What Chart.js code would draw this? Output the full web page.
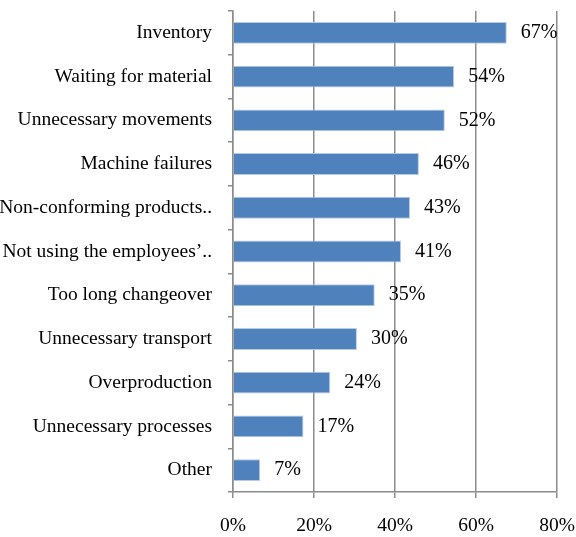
<!DOCTYPE html>
<html lang="en">
<head>
    <meta charset="UTF-8">
    <title>Wastes</title>
    <style>
        body {
            margin: 0;
            padding: 0;
            background: #fff;
        }
        #wasteChart {
            display: block;
        }
    </style>
</head>
<body>
    <canvas id="wasteChart" width="576" height="537"></canvas>
    <script src="https://cdn.jsdelivr.net/npm/chart.js"></script>
    <script>
        // categories, top to bottom
        var categories = [
            'Inventory',
            'Waiting for material',
            'Unnecessary movements',
            'Machine failures',
            'Non-conforming products..',
            'Not using the employees\u2019..',
            'Too long changeover',
            'Unnecessary transport',
            'Overproduction',
            'Unnecessary processes',
            'Other'
        ];
        // share of answers (%)
        var shares = [67.6, 54.6, 52.3, 45.9, 43.7, 41.5, 35.0, 30.6, 24.0, 17.4, 6.7];
        // the rounded labels printed next to each bar
        var shareLabels = ['67%', '54%', '52%', '46%', '43%', '41%', '35%', '30%', '24%', '17%', '7%'];
        var xTicks = [0, 20, 40, 60, 80];

        var serif = '"Liberation Serif", "Times New Roman", serif';
        var gridGray = '#8c8c8c';

        // draws the value label just right of each bar
        var barLabels = {
            id: 'barLabels',
            afterDatasetsDraw: function(chart) {
                var ctx = chart.ctx;
                var meta = chart.getDatasetMeta(0);
                ctx.save();
                ctx.font = '20px ' + serif;
                ctx.fillStyle = '#000';
                ctx.textAlign = 'left';
                ctx.textBaseline = 'middle';
                meta.data.forEach(function(bar, i) {
                    ctx.fillText(shareLabels[i], bar.x + 14, bar.y);
                });
                ctx.restore();
            }
        };

        var ctx = document.getElementById('wasteChart').getContext('2d');
        var myChart = new Chart(ctx, {
            type: 'bar',
            data: {
                labels: categories,
                datasets: [{
                    data: shares,
                    backgroundColor: '#4f81bd',
                    borderColor: '#b7cbe4',
                    borderWidth: 1,
                    barPercentage: 1,
                    categoryPercentage: 0.5
                }]
            },
            options: {
                indexAxis: 'y',
                responsive: false,
                animation: false,
                layout: {
                    padding: { top: 11, right: 19, bottom: 0, left: 0 }
                },
                plugins: {
                    legend: { display: false },
                    tooltip: { enabled: false }
                },
                scales: {
                    x: {
                        min: 0,
                        max: 80,
                        afterBuildTicks: function(axis) {
                            axis.ticks = xTicks.map(function(v) { return { value: v }; });
                        },
                        afterFit: function(axis) {
                            axis.height = 45;
                            axis.paddingLeft = 0;
                            axis.paddingRight = 0;
                        },
                        ticks: {
                            color: '#000',
                            font: { family: serif, size: 19.5 },
                            padding: 16,
                            maxRotation: 0,
                            callback: function(v) { return v + '%'; }
                        },
                        grid: {
                            color: gridGray,
                            lineWidth: 1.5,
                            drawTicks: true,
                            tickLength: 6,
                            tickColor: gridGray
                        },
                        border: { color: gridGray, width: 1.5 }
                    },
                    y: {
                        afterFit: function(axis) {
                            axis.width = 233;
                            axis.paddingTop = 0;
                            axis.paddingBottom = 0;
                        },
                        ticks: {
                            color: '#000',
                            font: { family: serif, size: 19.5 },
                            padding: 16,
                            autoSkip: false
                        },
                        grid: {
                            offset: true,
                            drawOnChartArea: false,
                            drawTicks: true,
                            tickLength: 5,
                            tickColor: gridGray,
                            lineWidth: 1.5
                        },
                        border: { color: gridGray, width: 1.5 }
                    }
                }
            },
            plugins: [barLabels]
        });
    </script>
</body>
</html>
